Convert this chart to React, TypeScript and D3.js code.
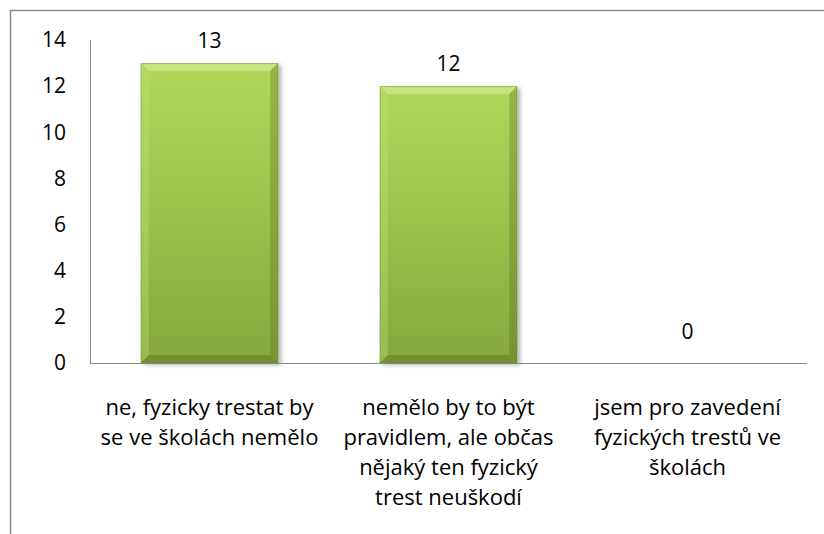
import React from "react";
import * as d3 from "d3";

const categories: string[][] = [
  ["ne, fyzicky trestat by", "se ve školách nemělo"],
  ["nemělo by to být", "pravidlem, ale občas", "nějaký ten fyzický", "trest neuškodí"],
  ["jsem pro zavedení", "fyzických trestů ve", "školách"],
];
const values: number[] = [13, 12, 0];
const yTicks: number[] = [0, 2, 4, 6, 8, 10, 12, 14];

const W = 824;
const H = 534;
const FONT = '"Open Sans", "Liberation Serif", serif';

export default function App() {
  const x = d3
    .scaleBand<number>()
    .domain(values.map((_, i) => i))
    .range([90, 807])
    .paddingInner(0.425)
    .paddingOuter(0.2125);
  const y = d3.scaleLinear().domain([0, 14]).range([363, 40]);
  const bw = x.bandwidth();
  const bev = 8;
  const txt: React.CSSProperties = { fontFamily: FONT, fontSize: "21px" };
  const catTxt: React.CSSProperties = { fontFamily: FONT, fontSize: "22px" };

  return (
    <svg
      width={W}
      height={H}
      style={{ position: "absolute", left: 0, top: 0, background: "#fff", fontFamily: FONT }}
    >
      <defs>
        <linearGradient id="barGrad" x1="0" y1="0" x2="0" y2="1">
          <stop offset="0" stopColor="#b0d65b" />
          <stop offset="0.5" stopColor="#9cc24b" />
          <stop offset="1" stopColor="#85a73d" />
        </linearGradient>
        <filter id="shadow" x="-20%" y="-20%" width="140%" height="140%">
          <feGaussianBlur in="SourceAlpha" stdDeviation="2" />
          <feOffset dx="3" dy="2" result="ob" />
          <feComponentTransfer>
            <feFuncA type="linear" slope="0.3" />
          </feComponentTransfer>
          <feMerge>
            <feMergeNode />
            <feMergeNode in="SourceGraphic" />
          </feMerge>
        </filter>
      </defs>
      <rect x={10.5} y={10.5} width={W + 20} height={H + 20} fill="#fff" stroke="#8a8a8a" strokeWidth={1.5} />

      {values.map((v, i) => {
        const x0 = x(i)!;
        const y0 = y(v);
        const h = y(0) - y0;
        if (h <= 0) return null;
        const x1 = x0 + bw;
        const y1 = y(0);
        return (
          <g key={i}>
            <rect x={x0} y={y0} width={bw} height={h} fill="url(#barGrad)" filter="url(#shadow)" />
            <polygon
              points={`${x0},${y0} ${x1},${y0} ${x1 - bev},${y0 + bev} ${x0 + bev},${y0 + bev}`}
              fill="#d2ec8e"
              opacity={0.7}
            />
            <polygon
              points={`${x0},${y0} ${x0 + bev},${y0 + bev} ${x0 + bev},${y1 - bev} ${x0},${y1}`}
              fill="#c3e07a"
              opacity={0.35}
            />
            <polygon
              points={`${x1},${y0} ${x1},${y1} ${x1 - bev},${y1 - bev} ${x1 - bev},${y0 + bev}`}
              fill="#556b22"
              opacity={0.3}
            />
            <polygon
              points={`${x0},${y1} ${x1},${y1} ${x1 - bev},${y1 - bev} ${x0 + bev},${y1 - bev}`}
              fill="#4d6320"
              opacity={0.35}
            />
            <rect x={x0 + 0.5} y={y0 + 0.5} width={bw - 1} height={h - 1} fill="none" stroke="#6f8a30" strokeOpacity={0.45} />
          </g>
        );
      })}

      <line x1={90.5} x2={90.5} y1={40} y2={363} stroke="#868686" strokeWidth={1} />
      <line x1={90} x2={807} y1={363.5} y2={363.5} stroke="#868686" strokeWidth={1.2} />

      {yTicks.map((t) => (
        <text key={t} x={66} y={y(t)} dy="0.35em" textAnchor="end" style={txt} fill="#000">
          {t}
        </text>
      ))}

      {values.map((v, i) => (
        <text
          key={i}
          x={x(i)! + bw / 2}
          y={Math.min(y(v) - 15, y(0) - 24)}
          textAnchor="middle"
          style={txt}
          fill="#000"
        >
          {v}
        </text>
      ))}

      {categories.map((lines, i) => (
        <text key={i} x={x(i)! + bw / 2} y={415} textAnchor="middle" style={catTxt} fill="#000">
          {lines.map((l, j) => (
            <tspan key={j} x={x(i)! + bw / 2} dy={j === 0 ? 0 : 30}>
              {l}
            </tspan>
          ))}
        </text>
      ))}
    </svg>
  );
}
